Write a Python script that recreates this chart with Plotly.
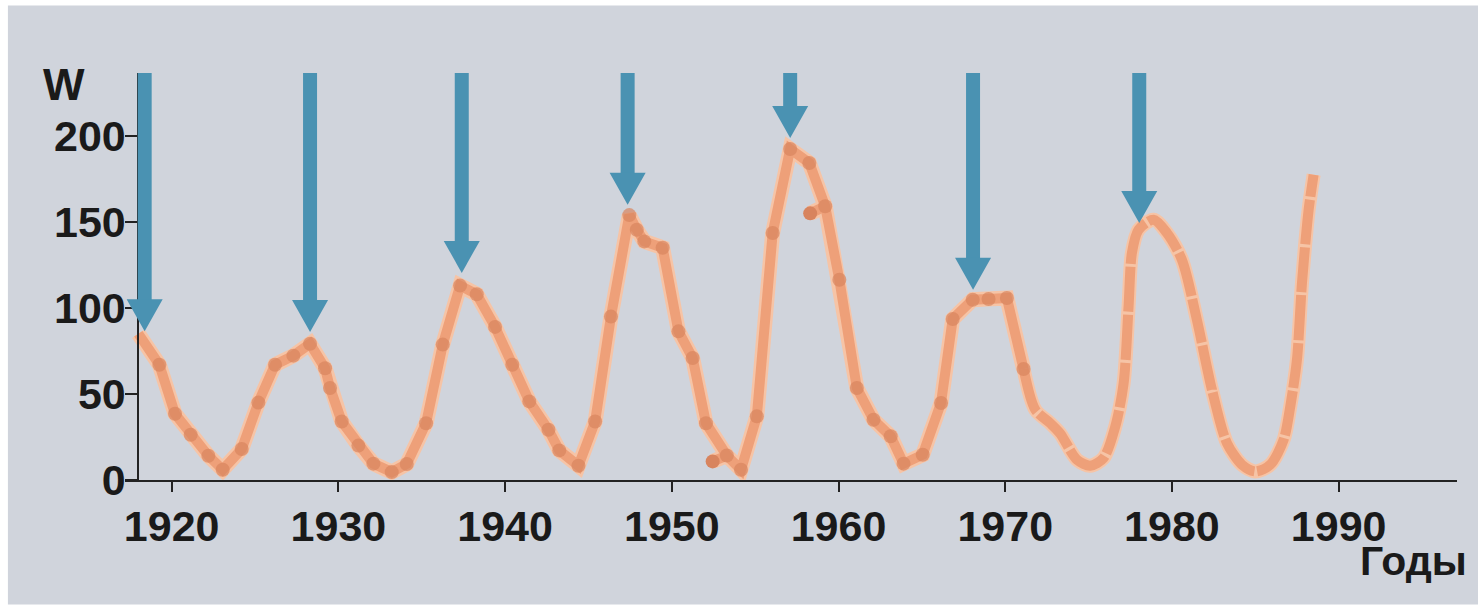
import plotly.graph_objects as go

obs_years = [1918.0, 1919.26, 1920.2, 1921.14, 1922.2, 1923.06, 1924.2, 1925.2, 1926.2, 1927.3,
             1928.3, 1929.2, 1929.5, 1930.2, 1931.2, 1932.1, 1933.2, 1934.1, 1935.26, 1936.26,
             1937.3, 1938.3, 1939.4, 1940.43, 1941.45, 1942.6, 1943.25, 1944.4, 1945.4, 1946.35,
             1947.45, 1947.9, 1948.35, 1949.45, 1950.4, 1951.25, 1952.05, 1953.3, 1954.15, 1955.1,
             1956.05, 1957.1, 1958.25, 1959.2, 1960.05, 1961.1, 1962.1, 1963.13, 1963.9, 1965.05,
             1966.15, 1966.85, 1968.05, 1969.0, 1970.1, 1971.1]
obs_values = [85, 67, 38.5, 26.3, 14.1, 6, 18, 45, 67, 72.3,
              79.2, 65, 53.5, 34, 20, 9.5, 4.6, 9.3, 33, 78.7,
              113, 108, 89, 67, 45.7, 29.2, 17.2, 8.3, 34, 95,
              154, 145.5, 138.7, 135, 86.4, 70.9, 33, 14.2, 6, 37,
              143.6, 192.4, 184.3, 159.1, 116.4, 53.5, 35, 25.4, 9.5, 14.7,
              44.8, 93.6, 104.8, 105.2, 105.8, 64.5]

# Extra short connected points
stub1_years = [1952.45, 1953.3]
stub1_values = [10.8, 14.2]
stub2_years = [1958.3, 1959.2]
stub2_values = [155, 159.1]

# Smoothed / projected curve after 1971
fc_years = [1971.1, 1971.8, 1972.7, 1973.3, 1974.3, 1975.1, 1975.9, 1976.6, 1977.1, 1977.4,
            1977.6, 1978.0, 1978.9, 1979.7, 1980.6, 1981.5, 1982.4, 1983.3, 1984.2, 1985.0,
            1985.9, 1986.7, 1987.1, 1987.5, 1987.8, 1988.2, 1988.5]
fc_values = [64.5, 40.9, 33, 27, 11.8, 8.3, 12.8, 31, 56, 101,
             132, 145.5, 151.3, 143.6, 128, 93, 52.5, 21.5, 8.9, 5,
             8.9, 23.4, 42.8, 70, 114.5, 157, 177.5]

# Arrows marking solar maxima
arrow_years = [1918.38, 1928.3, 1937.4, 1947.35, 1957.1, 1968.07, 1978.04]
arrow_tips = [86.4, 86.0, 120.4, 160, 198.8, 110.6, 149.4]

x_ticks = [1920, 1930, 1940, 1950, 1960, 1970, 1980, 1990]
y_ticks = [0, 50, 100, 150, 200]

X_MIN, X_MAX = 1917.2, 1997.1
Y_MIN, Y_MAX = 0, 236.6
Y_AXIS_AT = 1918.0

HALO = "#f6c4a6"
LINE = "#eea079"
MARK = "#d8845e"
ARROW = "#4a92b2"
BG = "#d0d4dc"
FONT = "Liberation Sans, Arial, sans-serif"
TXT = "#1a1a1a"

fig = go.Figure()

marker_sizes = [0] + [14] * (len(obs_years) - 1)

for xs, ys in [(obs_years, obs_values), (stub1_years, stub1_values), (stub2_years, stub2_values)]:
    fig.add_trace(go.Scatter(x=xs, y=ys, mode="lines", line=dict(color=HALO, width=15),
                             hoverinfo="skip", showlegend=False, cliponaxis=False))
fig.add_trace(go.Scatter(x=fc_years, y=fc_values, mode="lines",
                         line=dict(color=HALO, width=14, shape="spline", smoothing=0.8),
                         hoverinfo="skip", showlegend=False, cliponaxis=False))
fig.add_trace(go.Scatter(x=fc_years, y=fc_values, mode="lines",
                         line=dict(color=LINE, width=10, shape="spline", smoothing=0.8, dash="45px,3px"),
                         showlegend=False, cliponaxis=False))
for xs, ys in [(obs_years, obs_values), (stub1_years, stub1_values), (stub2_years, stub2_values)]:
    fig.add_trace(go.Scatter(x=xs, y=ys, mode="lines", line=dict(color=LINE, width=10),
                             showlegend=False, cliponaxis=False))
fig.add_trace(go.Scatter(x=obs_years, y=obs_values, mode="markers",
                         marker=dict(color=MARK, size=marker_sizes, line=dict(width=0)),
                         showlegend=False, cliponaxis=False))
fig.add_trace(go.Scatter(x=stub1_years[:1] + stub2_years[:1], y=stub1_values[:1] + stub2_values[:1],
                         mode="markers", marker=dict(color=MARK, size=14, line=dict(width=0)),
                         showlegend=False, cliponaxis=False))

shapes = []
# background panel
shapes.append(dict(type="rect", xref="paper", yref="paper", x0=-0.0879, x1=1.02, y0=-0.306, y1=1.166,
                   fillcolor=BG, line=dict(width=0), layer="below"))
for ax, tip in zip(arrow_years, arrow_tips):
    shapes.append(dict(type="rect", xref="x", yref="y", xsizemode="pixel", ysizemode="pixel",
                       xanchor=ax, yanchor=tip, x0=-7, x1=7, y0=31, y1=900,
                       fillcolor=ARROW, line=dict(width=0), layer="above"))
    shapes.append(dict(type="path", xref="x", yref="y", xsizemode="pixel", ysizemode="pixel",
                       xanchor=ax, yanchor=tip, path="M-18,32 L18,32 L0,0 Z",
                       fillcolor=ARROW, line=dict(width=0), layer="above"))

fig.update_layout(
    width=1478, height=607,
    margin=dict(l=125, r=21, t=73, b=127),
    paper_bgcolor="white",
    plot_bgcolor="rgba(0,0,0,0)",
    shapes=shapes,
    font=dict(family=FONT, color=TXT),
    xaxis=dict(range=[X_MIN, X_MAX], tickvals=x_ticks, ticktext=[str(v) for v in x_ticks],
               showgrid=False, zeroline=False, showline=True, linecolor="#222", linewidth=2,
               ticks="outside", ticklen=10, tickwidth=2, tickcolor="#222", ticklabelstandoff=-3,
               tickfont=dict(size=43, family=FONT, weight="bold", color=TXT)),
    yaxis=dict(range=[Y_MIN, Y_MAX], tickvals=y_ticks, ticktext=[str(v) for v in y_ticks],
               anchor="free", position=(Y_AXIS_AT - X_MIN) / (X_MAX - X_MIN),
               showgrid=False, zeroline=False, showline=True, linecolor="#222", linewidth=2,
               ticks="outside", ticklen=12, tickwidth=2, tickcolor="#222", ticklabelstandoff=-9,
               tickfont=dict(size=43, family=FONT, weight="bold", color=TXT)),
    annotations=[
        dict(text="W", xref="paper", yref="paper", x=-0.046, y=0.972, xanchor="center", yanchor="middle",
             showarrow=False, font=dict(size=44, family=FONT, weight="bold", color=TXT)),
        dict(text="Годы", xref="paper", yref="paper", x=1.0087, y=-0.198, xanchor="right", yanchor="middle",
             showarrow=False, font=dict(size=41, family=FONT, weight="bold", color=TXT)),
    ],
)

fig.write_html("out.html", config={"displayModeBar": False},
               post_script="document.body.style.margin='0px';document.body.style.overflow='hidden';")
